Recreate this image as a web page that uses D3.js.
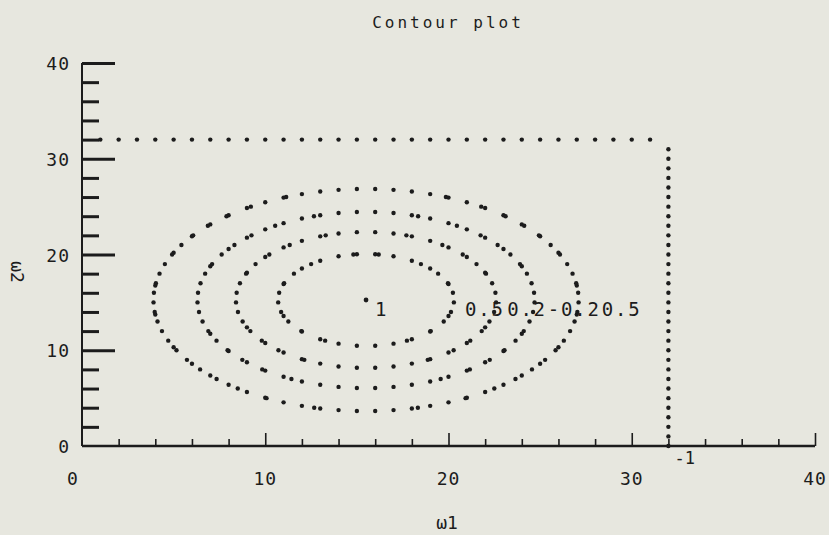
<!DOCTYPE html>
<html>
<head>
<meta charset="utf-8">
<script src="https://cdn.jsdelivr.net/npm/d3@7"></script>
<style>
  body { margin: 0; background: #e7e7df; }
  svg { display: block; }
  text { font-family: "DejaVu Sans Mono", "Liberation Mono", monospace; fill: #1c1c1c; }
</style>
</head>
<body>
<div id="chart_div"></div>
<script>
//----------------------------- DATA ------------------------------//
const xTicks = [0, 10, 20, 30, 40];
const yTicks = [0, 10, 20, 30, 40];
// contour rings (circles in data space) around the peak
const levels = ["0.5", "0.2", "-0.2", "0.5"];
const radii = [4.8, 7.1, 9.2, 11.6];
const peak = { x: 15.5, y: 15.25, label: "1" };
// the -1 contour runs along x = 32 and y = 32
const boundary = { x: 32, y: 32, label: "-1" };

//----------------------------- SVG -------------------------------//
const width = 829;
const height = 535;

const svg = d3.select("#chart_div").append("svg")
  .attr("width", width)
  .attr("height", height);

svg.append("rect")
  .attr("width", width).attr("height", height)
  .attr("fill", "#e7e7df");

//---------------------------- SCALES -----------------------------//
const xScale = d3.scaleLinear().domain([0, 40]).range([82, 815]);
const yScale = d3.scaleLinear().domain([0, 40]).range([446, 63]);

//----------------------------- AXES ------------------------------//
const ink = "#1c1c1c";

// x axis: ticks point up, minor every 2
const xaxis = d3.axisTop(xScale)
  .tickValues(d3.range(2, 41, 2))
  .tickSize(7)
  .tickFormat("");

const gx = svg.append("g")
  .attr("transform", "translate(0," + yScale(0) + ")")
  .call(xaxis);
gx.select(".domain").remove();
gx.selectAll(".tick line")
  .attr("stroke", ink).attr("stroke-width", 1.6)
  .attr("y2", d => d % 10 === 0 ? -13 : -7);

svg.append("line")
  .attr("x1", xScale(0)).attr("x2", xScale(40))
  .attr("y1", yScale(0)).attr("y2", yScale(0))
  .attr("stroke", ink).attr("stroke-width", 2.6);

svg.append("g").selectAll("text")
  .data(xTicks)
  .enter().append("text")
  .attr("x", d => d === 0 ? xScale(d) - 9 : xScale(d))
  .attr("y", 485)
  .attr("text-anchor", "middle")
  .style("font-size", "18px")
  .style("letter-spacing", "1px")
  .text(d => d);

// y axis: ticks point right, minor every 2
const yaxis = d3.axisRight(yScale)
  .tickValues(d3.range(2, 41, 2))
  .tickSize(17)
  .tickFormat("");

const gy = svg.append("g")
  .attr("transform", "translate(" + xScale(0) + ",0)")
  .call(yaxis);
gy.select(".domain").remove();
gy.selectAll(".tick line")
  .attr("stroke", ink).attr("stroke-width", 3)
  .attr("x2", d => d % 10 === 0 ? 33 : 17);

svg.append("line")
  .attr("x1", xScale(0)).attr("x2", xScale(0))
  .attr("y1", yScale(0)).attr("y2", yScale(40))
  .attr("stroke", ink).attr("stroke-width", 2);

svg.append("g").selectAll("text")
  .data(yTicks)
  .enter().append("text")
  .attr("x", 70)
  .attr("y", d => yScale(d) + 7)
  .attr("text-anchor", "end")
  .style("font-size", "18px")
  .style("letter-spacing", "1px")
  .text(d => d);

//---------------------------- TITLES -----------------------------//
svg.append("text")
  .attr("x", 448).attr("y", 28)
  .attr("text-anchor", "middle")
  .style("font-size", "16px")
  .style("letter-spacing", "3px")
  .text("Contour plot");

svg.append("text")
  .attr("x", 447).attr("y", 529)
  .attr("text-anchor", "middle")
  .style("font-size", "18px")
  .text("ω1");

svg.append("text")
  .attr("transform", "translate(11,272) rotate(90)")
  .attr("text-anchor", "middle")
  .style("font-size", "18px")
  .text("ω2");

//--------------------------- CONTOURS ----------------------------//
// dots where each ring crosses the unit grid lines
function ringDots(r) {
  const pts = [];
  for (let x = Math.ceil(peak.x - r); x <= Math.floor(peak.x + r); x++) {
    const h = r * Math.sqrt(Math.max(0, 1 - ((x - peak.x) / r) ** 2));
    pts.push({ x: x, y: peak.y + h }, { x: x, y: peak.y - h });
  }
  for (let y = Math.ceil(peak.y - r); y <= Math.floor(peak.y + r); y++) {
    const w = r * Math.sqrt(Math.max(0, 1 - ((y - peak.y) / r) ** 2));
    pts.push({ x: peak.x + w, y: y }, { x: peak.x - w, y: y });
  }
  return pts;
}

const rings = svg.append("g").attr("class", "rings");

radii.forEach(r => {
  rings.append("g")
    .selectAll("circle")
    .data(ringDots(r))
    .enter().append("circle")
    .attr("cx", d => xScale(d.x))
    .attr("cy", d => yScale(d.y))
    .attr("r", 2.2)
    .attr("fill", ink);
});

// the -1 boundary contour
const boundaryDots = d3.range(1, boundary.x).map(x => ({ x: x, y: boundary.y }))
  .concat(d3.range(0, boundary.y).map(y => ({ x: boundary.x, y: y })));

svg.append("g")
  .selectAll("circle")
  .data(boundaryDots)
  .enter().append("circle")
  .attr("cx", d => xScale(d.x))
  .attr("cy", d => yScale(d.y))
  .attr("r", 2.2)
  .attr("fill", ink);

// level labels
svg.append("circle")
  .attr("cx", xScale(peak.x)).attr("cy", yScale(peak.y))
  .attr("r", 2.4).attr("fill", ink);

svg.append("text")
  .attr("x", xScale(peak.x) + 9)
  .attr("y", yScale(peak.y) + 16)
  .style("font-size", "19px")
  .text(peak.label);

// labels sit right of each ring, pushed along so they run on without overlap
let nextX = 0;
levels.forEach((lab, i) => {
  const t = svg.append("text")
    .attr("x", Math.max(xScale(peak.x + radii[i]) + 11, nextX))
    .attr("y", yScale(peak.y) + 16)
    .style("font-size", "19px")
    .style("letter-spacing", "1.8px")
    .text(lab);
  nextX = +t.attr("x") + t.node().getComputedTextLength() + 1;
});

svg.append("text")
  .attr("x", xScale(boundary.x) + 6)
  .attr("y", yScale(0) + 18)
  .style("font-size", "17px")
  .text(boundary.label);
</script>
</body>
</html>
